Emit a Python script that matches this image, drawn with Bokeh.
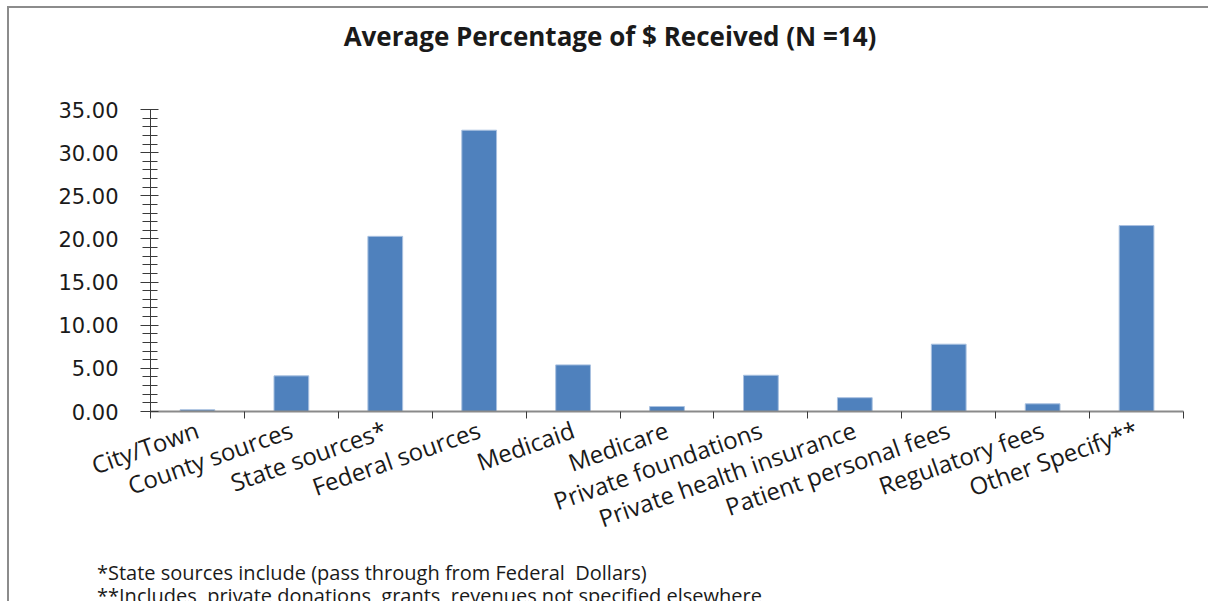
from bokeh.plotting import figure
from bokeh.layouts import column
from bokeh.models import (Range1d, LinearAxis, FixedTicker, SingleIntervalTicker,
                          PrintfTickFormatter, Div, ColumnDataSource)
from bokeh.embed import file_html
from bokeh.resources import INLINE

# Funding sources and their average share of dollars received (%)
categories = [
    "City/Town", "County sources", "State sources*", "Federal sources",
    "Medicaid", "Medicare", "Private foundations", "Private health insurance",
    "Patient personal fees", "Regulatory fees", "Other Specify**",
]
avg_percent = [0.20, 4.13, 20.30, 32.60, 5.40, 0.58, 4.20, 1.60, 7.80, 0.89, 21.55]

title_text = "Average Percentage of $ Received (N =14)"
footnotes = [
    "*State sources include (pass through from Federal  Dollars)",
    "**Includes  private donations, grants, revenues not specified elsewhere",
]

FONT = "Open Sans"
INNER_W = 1230          # drawing width inside the grey frame (runs past the right edge)
TITLE_W = 1202          # title strip width, centred on the chart
TITLE_H = 56            # title strip height
FIG_H = 497             # chart canvas height
NOTES_H = 40            # footnote strip height

positions = list(range(1, len(categories) + 1))
source = ColumnDataSource(dict(x=positions, top=avg_percent, cat=categories))

title_div = Div(text=title_text, width=TITLE_W, height=TITLE_H, margin=0,
                styles={"font-family": FONT, "font-weight": "bold",
                        "font-size": "26px", "line-height": f"{TITLE_H}px",
                        "text-align": "center", "color": "#1a1a1a"})

p = figure(width=INNER_W, height=FIG_H, output_backend="svg", toolbar_location=None,
           x_range=Range1d(0.5, len(categories) + 0.5), y_range=Range1d(0, 35),
           x_axis_type=None, y_axis_type=None,
           min_border_left=141, min_border_right=INNER_W - 1174,
           min_border_top=45, min_border_bottom=150, margin=0)
p.outline_line_color = None
p.xgrid.visible = False
p.ygrid.visible = False
p.background_fill_color = "white"
p.border_fill_color = "white"

p.vbar(x="x", top="top", width=0.37, bottom=0, source=source,
       fill_color="#4f81bd", line_color="#a9c1e0", line_width=1)

# value axis
yaxis = LinearAxis(ticker=SingleIntervalTicker(interval=5, num_minor_ticks=5),
                   formatter=PrintfTickFormatter(format="%.2f"))
yaxis.axis_line_color = "#3a3a3a"
yaxis.major_tick_line_color = "#3a3a3a"
yaxis.minor_tick_line_color = "#3a3a3a"
yaxis.major_tick_out = 10
yaxis.major_tick_in = 8
yaxis.minor_tick_out = 8
yaxis.minor_tick_in = 7
yaxis.major_label_standoff = 22
yaxis.major_label_text_font = "DejaVu Sans"
yaxis.major_label_text_font_size = "21px"
yaxis.major_label_text_color = "#1a1a1a"
p.add_layout(yaxis, "left")

# category axis: labels at bar centres, tick marks between categories
xaxis = LinearAxis(ticker=FixedTicker(ticks=positions,
                                      minor_ticks=[i + 0.5 for i in range(len(categories) + 1)]))
xaxis.major_label_overrides = {pos: name for pos, name in zip(positions, categories)}
xaxis.axis_line_color = "#8a8a8a"
xaxis.axis_line_width = 2
xaxis.major_tick_out = 0
xaxis.major_tick_in = 0
xaxis.minor_tick_line_color = "#3a3a3a"
xaxis.minor_tick_out = 7
xaxis.minor_tick_in = 0
xaxis.major_label_orientation = 0.34
xaxis.major_label_standoff = 10
xaxis.major_label_text_font = FONT
xaxis.major_label_text_font_size = "24px"
xaxis.major_label_text_color = "#1a1a1a"
p.add_layout(xaxis, "below")

notes_div = Div(text="\n".join(footnotes), width=INNER_W - 88, height=NOTES_H,
                margin=(0, 0, 0, 88),
                styles={"font-family": FONT, "font-size": "20px",
                        "line-height": "23px", "white-space": "pre",
                        "overflow": "hidden", "color": "#1a1a1a"})

page = column(title_div, p, notes_div, spacing=0, margin=0,
              styles={"margin-left": "7px", "margin-top": "6px",
                      "border-left": "2px solid #8c8c8c",
                      "border-top": "2px solid #8c8c8c",
                      "background-color": "white"})

html = file_html(page, INLINE)
html = html.replace("<body>", '<body style="margin:0; overflow:hidden">', 1)
open("out.html", "w").write(html)
